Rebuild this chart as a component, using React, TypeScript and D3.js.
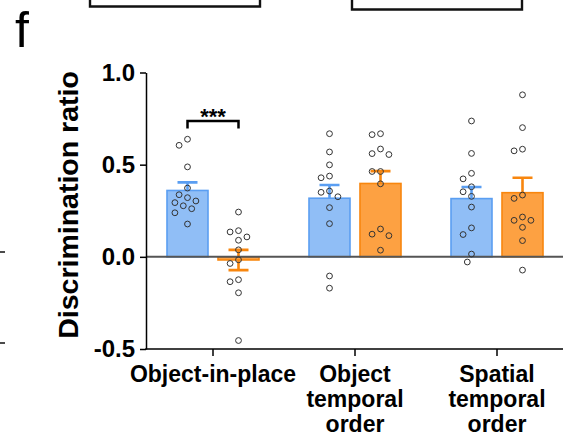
import React, { useRef, useEffect } from 'react';
import * as d3 from 'd3';

// task categories, one tick each
const categories = ['Object-in-place', 'Object temporal order', 'Spatial temporal order'];
const categoryLines = [['Object-in-place'], ['Object', 'temporal', 'order'], ['Spatial', 'temporal', 'order']];

// blue group (left bar of each pair)
const bluePoints = [
  [0.638, 0.605, 0.488, 0.373, 0.337, 0.321, 0.303, 0.294, 0.277, 0.261, 0.239, 0.178],
  [0.668, 0.569, 0.499, 0.438, 0.429, 0.357, 0.35, 0.326, 0.267, 0.18, -0.104, -0.17],
  [0.737, 0.561, 0.453, 0.423, 0.38, 0.353, 0.328, 0.27, 0.157, 0.121, 0.015, -0.028],
];
const blueMeans = [0.36, 0.318, 0.316];
const blueSem = [0.044, 0.072, 0.063];

// orange group (right bar of each pair)
const orangePoints = [
  [0.243, 0.142, 0.135, 0.108, 0.09, 0.038, -0.016, -0.036, -0.124, -0.135, -0.195, -0.454],
  [0.668, 0.663, 0.585, 0.56, 0.555, 0.463, 0.463, 0.396, 0.151, 0.123, 0.115, 0.036],
  [0.879, 0.701, 0.584, 0.575, 0.335, 0.317, 0.216, 0.198, 0.198, 0.16, 0.088, -0.072],
];
const orangeMeans = [-0.017, 0.398, 0.348];
const orangeSem = [0.055, 0.067, 0.081];

const yTicks = [-0.5, 0, 0.5, 1.0];

const FONT = '"Liberation Sans", Arial, sans-serif';

// greedy column scatter so the circles do not overlap
function swarm(values, cx, y, step = 4.2, minDist = 8.3) {
  const order = d3.range(values.length).sort((a, b) => values[b] - values[a]);
  const placed = [];
  const out = new Array(values.length);
  for (const i of order) {
    const py = y(values[i]);
    for (let k = 0; k < 30; k++) {
      const off = k === 0 ? 0 : (k % 2 ? -1 : 1) * Math.ceil(k / 2) * step;
      const px = cx + off;
      if (placed.every(p => Math.hypot(p.x - px, p.y - py) >= minDist)) {
        placed.push({ x: px, y: py });
        out[i] = { x: px, y: py };
        break;
      }
    }
  }
  return out;
}

const BarChart = () => {
  const svgRef = useRef(null);

  useEffect(() => {
    const svg = d3.select(svgRef.current);
    svg.selectAll('*').remove();

    const axisLeft = 146;
    const axisRight = 563;

    const y = d3.scaleLinear().domain([-0.5, 1.0]).range([349, 72.5]);
    const x = d3.scaleBand().domain(categories).range([142, 568]);
    const center = c => x(c) + x.bandwidth() / 2;
    const barW = 41;
    const off = 25.5;

    const series = [
      { points: bluePoints, means: blueMeans, sem: blueSem, fill: '#90bef6', stroke: '#5a9ef2', dx: -off },
      { points: orangePoints, means: orangeMeans, sem: orangeSem, fill: '#fda142', stroke: '#f8860e', dx: off },
    ];

    // bits of neighbouring panels
    svg.append('path')
      .attr('d', 'M90,0V6.5H260V0M352,0V9.5H522V0')
      .attr('fill', 'none').attr('stroke', '#111').attr('stroke-width', 2.4);
    svg.append('path')
      .attr('d', 'M0,252H5M0,343H5')
      .attr('stroke', '#111').attr('stroke-width', 1.5);

    svg.append('text')
      .attr('x', 15).attr('y', 47)
      .attr('font-family', FONT).attr('font-size', 50)
      .text('f');

    // error bars (behind the bars)
    series.forEach(s => {
      categories.forEach((c, i) => {
        const cx = center(c) + s.dx;
        const lo = y(s.means[i] - s.sem[i]);
        const hi = y(s.means[i] + s.sem[i]);
        svg.append('path')
          .attr('d', `M${cx},${lo}V${hi}M${cx - 10},${hi}H${cx + 10}M${cx - 10},${lo}H${cx + 10}`)
          .attr('stroke', s.stroke).attr('stroke-width', 2.6).attr('fill', 'none');
      });
    });

    // bars
    series.forEach(s => {
      svg.append('g')
        .selectAll('rect')
        .data(categories)
        .join('rect')
        .attr('x', c => center(c) + s.dx - barW / 2)
        .attr('width', barW)
        .attr('y', (c, i) => Math.min(y(s.means[i]), y(0)))
        .attr('height', (c, i) => Math.abs(y(s.means[i]) - y(0)))
        .attr('fill', s.fill)
        .attr('stroke', s.stroke)
        .attr('stroke-width', 1.6);
    });

    // zero line
    svg.append('line')
      .attr('x1', axisLeft).attr('x2', axisRight)
      .attr('y1', y(0)).attr('y2', y(0))
      .attr('stroke', '#555').attr('stroke-width', 2);

    // individual points
    series.forEach(s => {
      categories.forEach((c, i) => {
        const pos = swarm(s.points[i], center(c) + s.dx, y);
        svg.append('g')
          .selectAll('circle')
          .data(pos)
          .join('circle')
          .attr('cx', d => d.x)
          .attr('cy', d => d.y)
          .attr('r', 2.9)
          .attr('fill', 'none')
          .attr('stroke', '#333')
          .attr('stroke-width', 1);
      });
    });

    // y axis
    const yAxis = svg.append('g')
      .attr('transform', `translate(${axisLeft},0)`)
      .call(d3.axisLeft(y).tickValues(yTicks).tickFormat(d => d.toFixed(1)).tickSize(6).tickSizeOuter(0).tickPadding(5));
    yAxis.select('.domain').attr('stroke', '#000').attr('stroke-width', 1.5);
    yAxis.selectAll('.tick line').attr('stroke', '#000').attr('stroke-width', 1.5);
    yAxis.selectAll('.tick text')
      .attr('font-family', FONT).attr('font-size', 24).attr('font-weight', 'bold').attr('fill', '#000');

    // x axis
    const xAxis = svg.append('g')
      .attr('transform', 'translate(0,349)')
      .call(d3.axisBottom(x).tickSize(7).tickSizeOuter(0).tickFormat(() => ''));
    xAxis.select('.domain').remove();
    xAxis.selectAll('.tick line').attr('stroke', '#000').attr('stroke-width', 1.5);
    xAxis.append('line')
      .attr('x1', axisLeft - 0.75).attr('x2', axisRight)
      .attr('stroke', '#000').attr('stroke-width', 1.5);

    categories.forEach((c, i) => {
      const t = svg.append('text')
        .attr('text-anchor', 'middle')
        .attr('font-family', FONT).attr('font-size', 23).attr('font-weight', 'bold');
      categoryLines[i].forEach((line, j) => {
        t.append('tspan')
          .attr('x', center(c))
          .attr('y', 382 + j * 25)
          .text(line);
      });
    });

    // y title
    svg.append('text')
      .attr('transform', 'translate(78,205) rotate(-90)')
      .attr('text-anchor', 'middle')
      .attr('font-family', FONT).attr('font-size', 28.5).attr('font-weight', 'bold')
      .text('Discrimination ratio');

    // significance bracket
    const b1 = center(categories[0]) - off;
    const b2 = center(categories[0]) + off;
    svg.append('path')
      .attr('d', `M${b1},128.5V121H${b2}V128.5`)
      .attr('fill', 'none').attr('stroke', '#000').attr('stroke-width', 2.5);
    svg.append('text')
      .attr('x', (b1 + b2) / 2).attr('y', 124)
      .attr('text-anchor', 'middle')
      .attr('font-family', FONT).attr('font-size', 22).attr('font-weight', 'bold')
      .text('***');
  }, []);

  return <svg ref={svgRef} width={574} height={437} style={{ position: 'absolute', left: 0, top: 0 }} />;
};

export default function App() {
  return <BarChart />;
}
